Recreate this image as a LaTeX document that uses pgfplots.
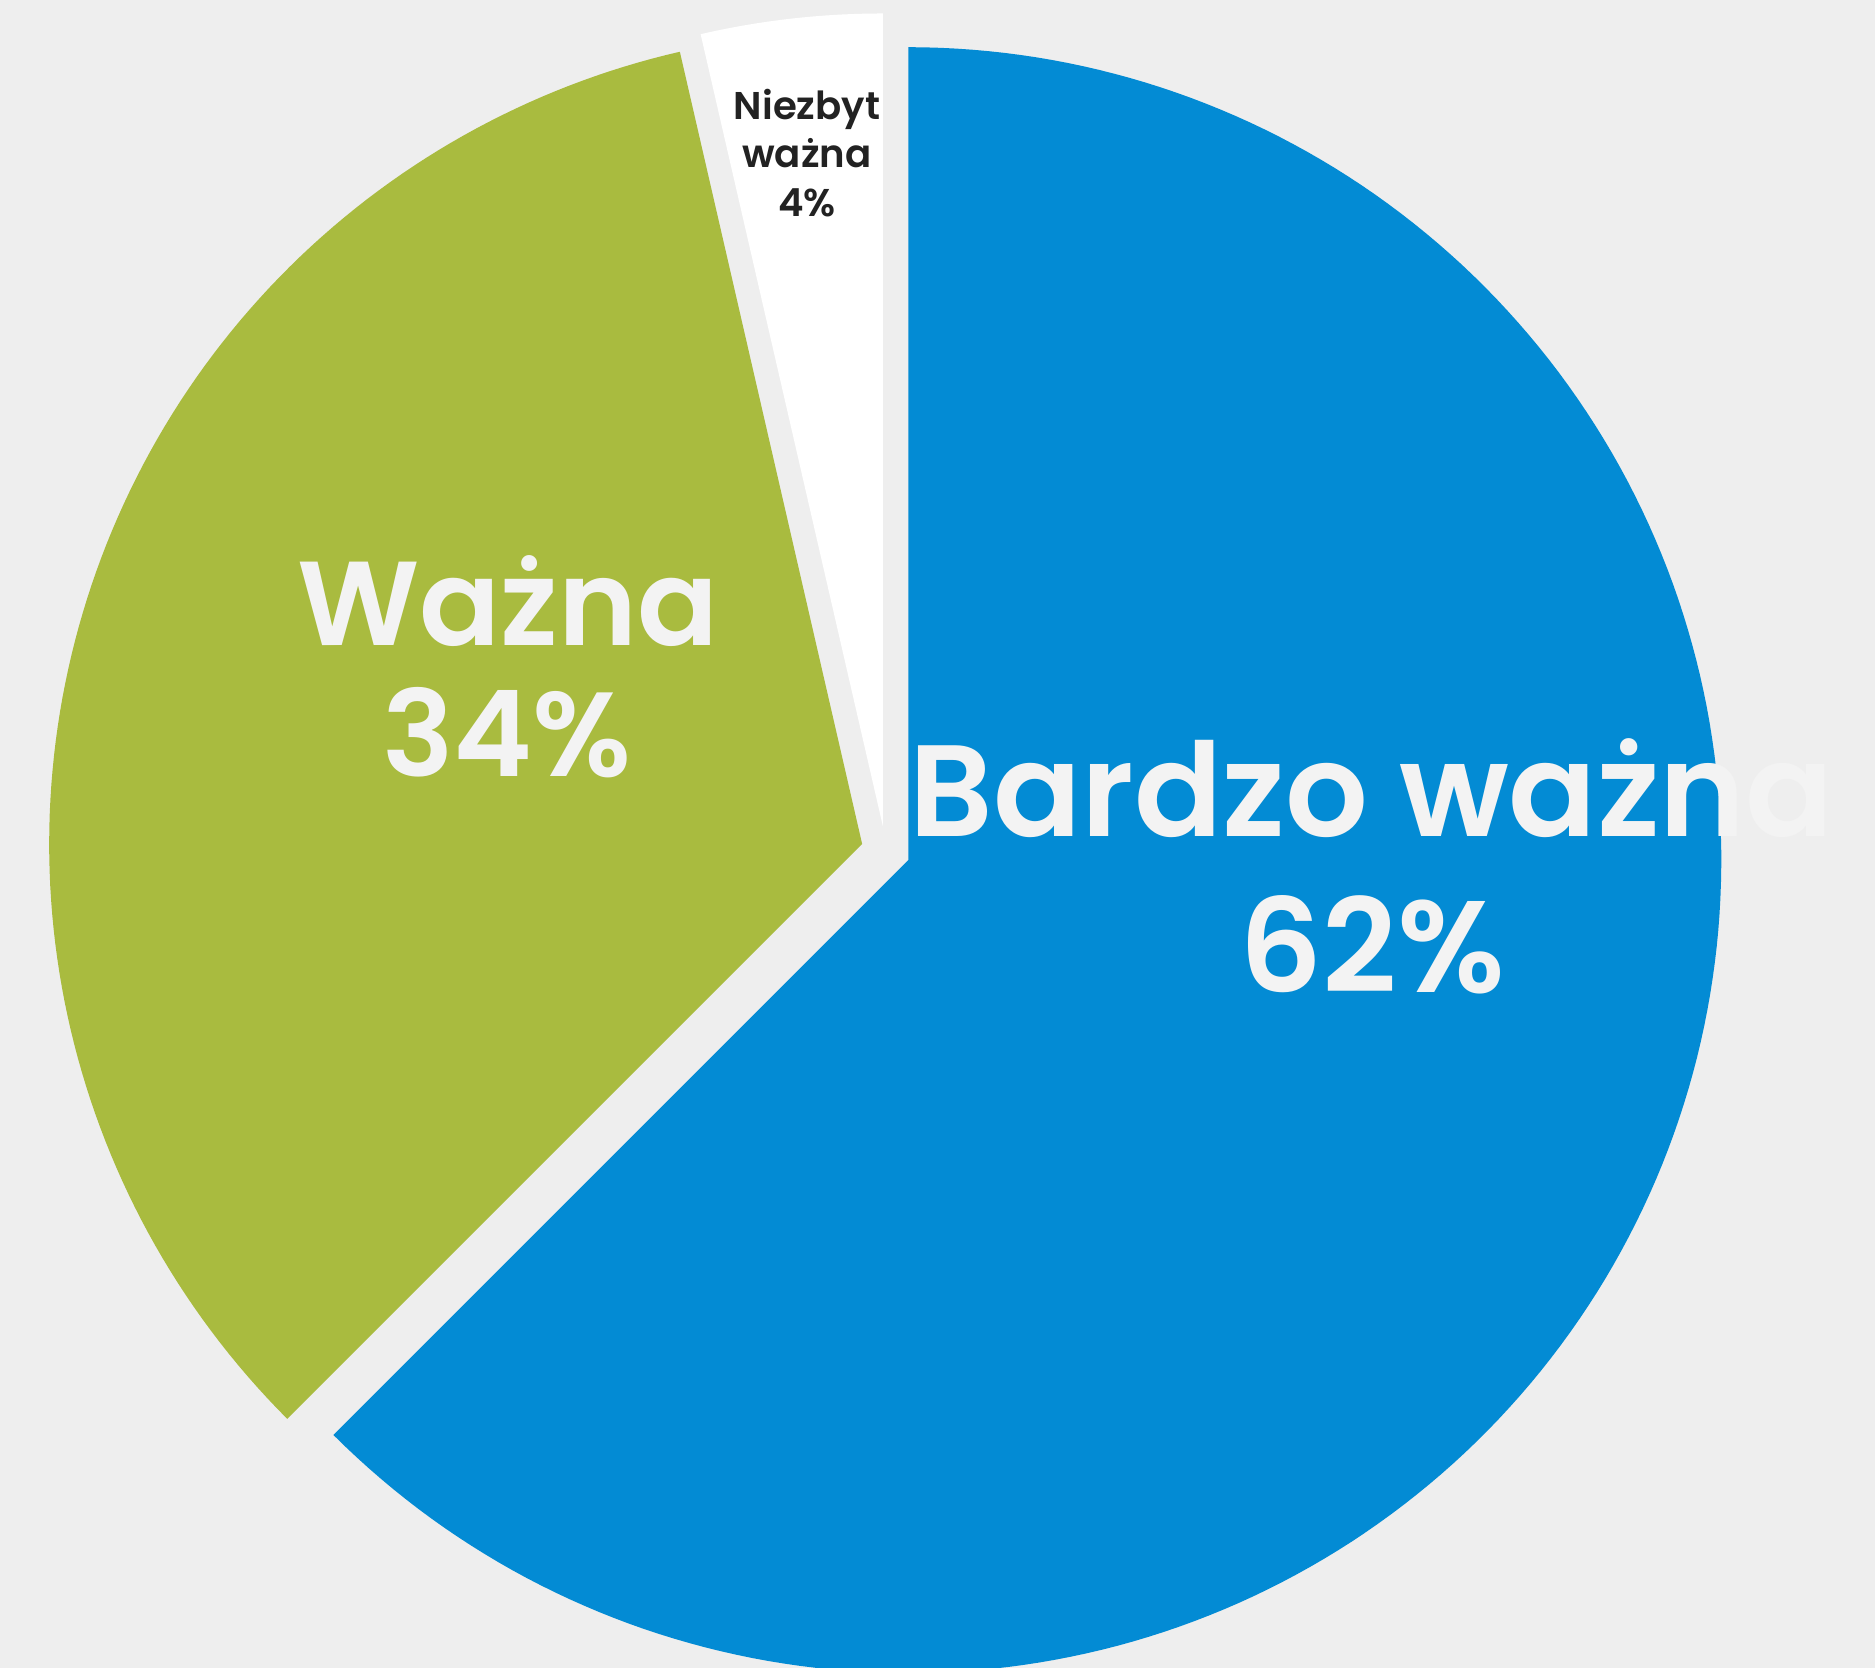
\documentclass[border=0pt]{standalone}
\usepackage{pgfplots}
\pgfplotsset{compat=1.18}
\usepackage{fontspec}
\setmainfont{Poppins}[BoldFont={Poppins SemiBold}]
\definecolor{bg}{HTML}{EEEEEE}
\definecolor{pieblue}{HTML}{038BD4}
\definecolor{piegreen}{HTML}{A9BB3F}
\definecolor{labelwhite}{HTML}{F3F3F3}
\definecolor{darktext}{HTML}{222222}
% slice values (percent)
\def\vBlue{62.5}
\def\vGreen{33.9}
\def\vWhite{3.6}
% geometry (pixel units)
\def\cx{885.7}
\def\cy{817.2}
\def\R{813}
\def\ex{24.5}
\pgfmathsetmacro{\aA}{90}
\pgfmathsetmacro{\aB}{\aA-3.6*\vBlue}
\pgfmathsetmacro{\aC}{\aB-3.6*\vGreen}
\pgfmathsetmacro{\aD}{\aC-3.6*\vWhite}
\pgfmathsetmacro{\mBlue}{(\aA+\aB)/2}
\pgfmathsetmacro{\mGreen}{(\aB+\aC)/2}
\pgfmathsetmacro{\mWhite}{(\aC+\aD)/2}
\pgfmathsetmacro{\bx}{\cx+\ex*cos(\mBlue)}
\pgfmathsetmacro{\by}{\cy+\ex*sin(\mBlue)}
\pgfmathsetmacro{\gx}{\cx+\ex*cos(\mGreen)}
\pgfmathsetmacro{\gy}{\cy+\ex*sin(\mGreen)}
\pgfmathsetmacro{\wx}{\cx+\ex*cos(\mWhite)}
\pgfmathsetmacro{\wy}{\cy+\ex*sin(\mWhite)}
\begin{document}
\begin{tikzpicture}
\begin{axis}[
  width=187.5mm, height=166.8mm, scale only axis,
  xmin=0, xmax=1875, ymin=0, ymax=1668,
  axis line style={draw=none}, ticks=none,
  axis background/.style={fill=bg},
  clip=true,
]
\addplot[fill=pieblue, draw=none, domain=\aB:\aA, samples=200, variable=\t]
  ({\bx+\R*cos(\t)},{\by+\R*sin(\t)}) -- (\bx,\by) -- cycle;
\addplot[fill=piegreen, draw=none, domain=\aC:\aB, samples=120, variable=\t]
  ({\gx+\R*cos(\t)},{\gy+\R*sin(\t)}) -- (\gx,\gy) -- cycle;
\addplot[fill=white, draw=none, domain=\aD:\aC, samples=30, variable=\t]
  ({\wx+\R*cos(\t)},{\wy+\R*sin(\t)}) -- (\wx,\wy) -- cycle;

\node[font=\fontsize{34}{40}\selectfont\bfseries, text=labelwhite, anchor=base] at (axis cs:508,1022) {Ważna};
\node[font=\fontsize{34}{40}\selectfont\bfseries, text=labelwhite, anchor=base] at (axis cs:507,891) {34\%};
\node[font=\fontsize{37}{44}\selectfont\bfseries, text=labelwhite, anchor=base] at (axis cs:1372,831) {Bardzo ważna};
\node[font=\fontsize{37}{44}\selectfont\bfseries, text=labelwhite, anchor=base] at (axis cs:1372,675) {62\%};
\node[font=\fontsize{11}{13}\selectfont\bfseries, text=darktext, anchor=base] at (axis cs:807,1548) {Niezbyt};
\node[font=\fontsize{11}{13}\selectfont\bfseries, text=darktext, anchor=base] at (axis cs:807,1500) {ważna};
\node[font=\fontsize{11}{13}\selectfont\bfseries, text=darktext, anchor=base] at (axis cs:807,1451) {4\%};
\end{axis}
\end{tikzpicture}
\end{document}
